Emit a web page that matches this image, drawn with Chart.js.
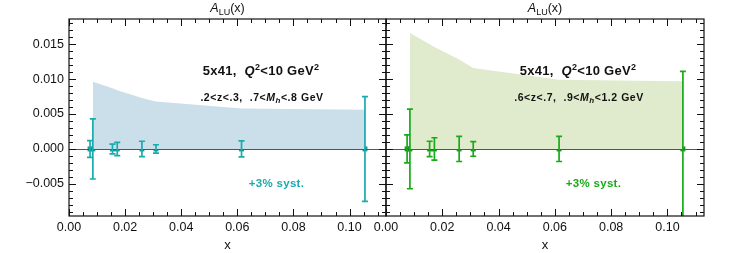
<!DOCTYPE html>
<html><head><meta charset="utf-8">
<script src="https://cdn.jsdelivr.net/npm/chart.js@4.4.0/dist/chart.umd.min.js"></script>
<style>
html,body{margin:0;padding:0;background:#fff;}
#wrap{position:relative;width:747px;height:253px;overflow:hidden;}
canvas{position:absolute;left:0;top:0;}
</style>
</head><body>
<div id="wrap"><canvas id="c1" width="747" height="253"></canvas><canvas id="c2" width="747" height="253"></canvas></div>
<script>
// ---- data ----
const xValues = [0.0075, 0.0085, 0.0155, 0.0172, 0.026, 0.031, 0.0615, 0.1055];
const leftValues = [0, 0, 0, 0, 0, 0, 0, 0];
const leftErrors = [0.0012, 0.0043, 0.0007, 0.00095, 0.0011, 0.0006, 0.00115, 0.0075];
const rightValues = [0, 0, 0, 0, 0, 0, 0, 0];
const rightErrors = [0.002, 0.0057, 0.0011, 0.0016, 0.0018, 0.00105, 0.0018, 0.0111];
const bandX = [0.0085, 0.0155, 0.0172, 0.026, 0.031, 0.0615, 0.1055];
const leftBand = [0.0096, 0.0087, 0.0084, 0.0073, 0.0068, 0.0058, 0.0056];
const rightBand = [0.0166, 0.0150, 0.0146, 0.0128, 0.0116, 0.0099, 0.0097];
const xTicks = [0, 0.02, 0.04, 0.06, 0.08, 0.10];
const yTicks = [-0.005, 0, 0.005, 0.010, 0.015];
const xTickLabels = ['0.00', '0.02', '0.04', '0.06', '0.08', '0.10'];
const yTickLabels = ['\u22120.005', '0.000', '0.005', '0.010', '0.015'];

const FONT = '"Liberation Sans", Arial, Helvetica, sans-serif';
const X_MIN = 0, X_MAX = 0.113, Y_MIN = -0.0096, Y_MAX = 0.0186;

function fontStr(s) {
  return `${s.style || 'normal'} ${s.weight || 'normal'} ${s.size}px ${FONT}`;
}
function drawRich(ctx, segs, cx, baseline, color, spacing) {
  ctx.save();
  const ls = (spacing || 0) + 'px';
  if ('letterSpacing' in ctx) ctx.letterSpacing = ls;
  let total = 0;
  segs.forEach(s => { ctx.font = fontStr(s); s.w = ctx.measureText(s.t).width; total += s.w; });
  let x = cx - total / 2;
  ctx.fillStyle = color;
  ctx.textAlign = 'left';
  ctx.textBaseline = 'alphabetic';
  segs.forEach(s => { ctx.font = fontStr(s); ctx.fillText(s.t, x, baseline + (s.dy || 0)); x += s.w; });
  ctx.restore();
}

function makeChart(id, opts) {
  const errPlugin = {
    id: 'errs',
    afterDatasetDraw(chart, args) {
      if (args.index !== 0) return;
      const {ctx, chartArea: a, scales: {x, y}} = chart;
      ctx.save();
      ctx.beginPath(); ctx.rect(a.left, a.top, a.right - a.left, a.bottom - a.top); ctx.clip();
      // zero line
      ctx.strokeStyle = '#555'; ctx.lineWidth = 1;
      const y0 = Math.round(y.getPixelForValue(0)) + 0.5;
      ctx.beginPath(); ctx.moveTo(a.left, y0); ctx.lineTo(a.right, y0); ctx.stroke();
      // error bars
      ctx.strokeStyle = opts.color; ctx.lineWidth = 1.7;
      xValues.forEach((xv, i) => {
        const px = x.getPixelForValue(xv);
        const yt = y.getPixelForValue(opts.values[i] + opts.errors[i]);
        const yb = y.getPixelForValue(opts.values[i] - opts.errors[i]);
        ctx.beginPath();
        ctx.moveTo(px, yt); ctx.lineTo(px, yb);
        ctx.moveTo(px - 3, yt); ctx.lineTo(px + 3, yt);
        ctx.moveTo(px - 3, yb); ctx.lineTo(px + 3, yb);
        ctx.stroke();
      });
      ctx.restore();
    }
  };
  const framePlugin = {
    id: 'frame',
    afterDraw(chart) {
      const {ctx, chartArea: a, scales: {x, y}} = chart;
      ctx.save();
      ctx.strokeStyle = '#111'; ctx.lineWidth = 1.2;
      ctx.strokeRect(a.left, a.top, a.right - a.left, a.bottom - a.top);
      ctx.lineWidth = 1;
      ctx.beginPath();
      for (let k = 0; k <= 22; k++) {
        const v = k * 0.005;
        if (v > X_MAX) break;
        const px = Math.round(x.getPixelForValue(v)) + 0.5;
        const len = (k % 4 === 0) ? 7 : 4;
        ctx.moveTo(px, a.bottom); ctx.lineTo(px, a.bottom - len);
        ctx.moveTo(px, a.top); ctx.lineTo(px, a.top + len);
      }
      for (let k = -9; k <= 18; k++) {
        const v = k * 0.001;
        const py = Math.round(y.getPixelForValue(v)) + 0.5;
        const len = (k % 5 === 0) ? 7 : 4;
        ctx.moveTo(a.left, py); ctx.lineTo(a.left + len, py);
        ctx.moveTo(a.right, py); ctx.lineTo(a.right - len, py);
      }
      ctx.stroke();
      ctx.restore();
      // texts
      const cx = (a.left + a.right) / 2;
      drawRich(ctx, [
        {t: 'A', size: 12.5, style: 'italic'},
        {t: 'LU', size: 9, dy: 2.5},
        {t: '(x)', size: 12.5}
      ], cx, 12, '#111', 0);
      const L = a.left;
      drawRich(ctx, [
        {t: '5x41,  ', size: 13, weight: 'bold'},
        {t: 'Q', size: 13, weight: 'bold', style: 'italic'},
        {t: '2', size: 9, weight: 'bold', dy: -5},
        {t: '<10 GeV', size: 13, weight: 'bold'},
        {t: '2', size: 9, weight: 'bold', dy: -5}
      ], L + 192, 75, '#111', 0.3);
      drawRich(ctx, opts.line2, L + 193, 100.5, '#111', 0.55);
      drawRich(ctx, [{t: '+3% syst.', size: 11.5, weight: 'bold'}], L + 207.5, 187, opts.color, 0.3);
    }
  };
  const xScale = {
    type: 'linear', min: X_MIN, max: X_MAX,
    grid: {display: false, drawTicks: false}, border: {display: false},
    afterBuildTicks: s => { s.ticks = xTicks.map(v => ({value: v})); },
    ticks: {
      callback: (v, i) => xTickLabels[i],
      font: {family: FONT, size: 12.5}, color: '#111', padding: 4, maxRotation: 0, autoSkip: false
    },
    title: {display: true, text: 'x', font: {family: FONT, size: 13}, color: '#111', padding: {top: 0, bottom: 0}},
    afterFit: s => { s.height = 37; }
  };
  const yScale = opts.showY ? {
    type: 'linear', min: Y_MIN, max: Y_MAX,
    grid: {display: false, drawTicks: false}, border: {display: false},
    afterBuildTicks: s => { s.ticks = yTicks.map(v => ({value: v})); },
    ticks: {
      callback: (v, i) => yTickLabels[i],
      font: {family: FONT, size: 12.5}, color: '#111', padding: 5, autoSkip: false
    },
    afterFit: s => { s.width = 69; }
  } : {type: 'linear', min: Y_MIN, max: Y_MAX, display: false};

  return new Chart(document.getElementById(id), {
    data: {
      datasets: [
        {
          type: 'line',
          data: bandX.map((bx, i) => ({x: bx, y: opts.band[i]})),
          fill: 'origin', backgroundColor: opts.bandColor, borderWidth: 0, pointRadius: 0, tension: 0
        },
        {
          type: 'scatter',
          data: xValues.map((xv, i) => ({x: xv, y: opts.values[i]})),
          pointStyle: 'rect', pointRadius: 3.5, backgroundColor: opts.pointColor, borderColor: opts.pointColor, borderWidth: 0
        }
      ]
    },
    options: {
      responsive: false, animation: false, events: [],
      layout: {padding: opts.padding},
      plugins: {legend: {display: false}, tooltip: {enabled: false}, title: {display: false}},
      scales: {x: xScale, y: yScale}
    },
    plugins: [errPlugin, framePlugin]
  });
}

makeChart('c1', {
  values: leftValues, errors: leftErrors, band: leftBand,
  color: '#1aabad', pointColor: '#14999b', bandColor: '#cadfe9', showY: true,
  padding: {left: 0, top: 19, right: 747 - 386, bottom: 0},
  line2: [
    {t: '.2<z<.3,  .7<', size: 10.5, weight: 'bold'},
    {t: 'M', size: 10.5, weight: 'bold', style: 'italic'},
    {t: 'h', size: 8, weight: 'bold', style: 'italic', dy: 2},
    {t: '<.8 GeV', size: 10.5, weight: 'bold'}
  ]
});
makeChart('c2', {
  values: rightValues, errors: rightErrors, band: rightBand,
  color: '#19aa19', pointColor: '#12981a', bandColor: '#e0ebcd', showY: false,
  padding: {left: 386, top: 19, right: 747 - 704, bottom: 0},
  line2: [
    {t: '.6<z<.7,  .9<', size: 10.5, weight: 'bold'},
    {t: 'M', size: 10.5, weight: 'bold', style: 'italic'},
    {t: 'h', size: 8, weight: 'bold', style: 'italic', dy: 2},
    {t: '<1.2 GeV', size: 10.5, weight: 'bold'}
  ]
});
</script>
</body></html>
